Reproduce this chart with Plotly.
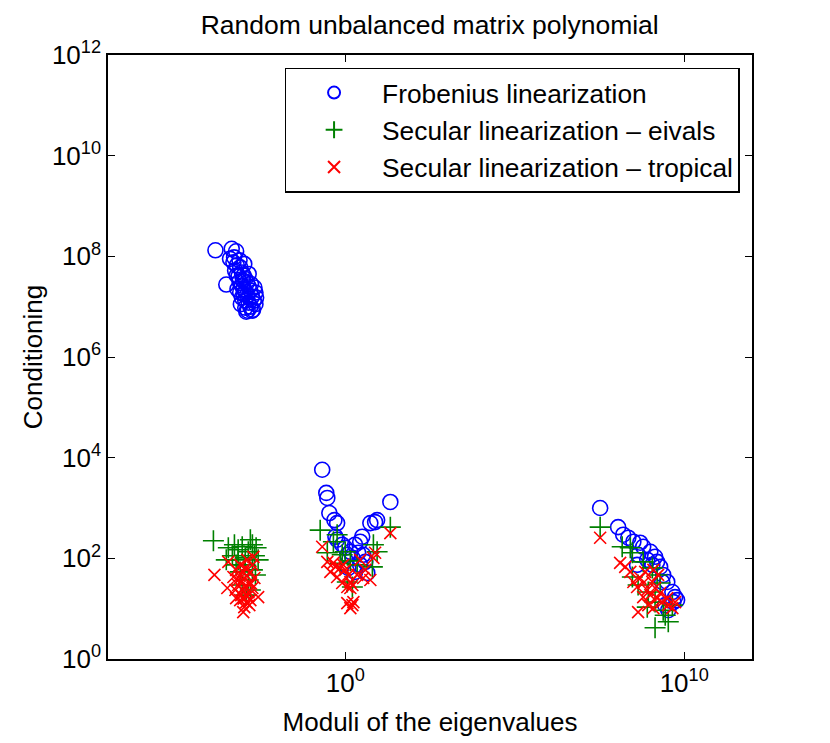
import plotly.graph_objects as go

# log10 of modulus / log10 of conditioning
frob_logx = [-3.83, -3.35, -3.22, -3.51, -3.40, -3.30, -3.20, -3.25, -3.10, -3.05, -3.15, -3.00,
             -2.95, -3.12, -2.90, -3.05, -2.85, -3.00, -2.95, -3.10, -2.80, -2.90, -3.05, -2.75,
             -2.95, -2.85, -3.08, -2.70, -2.80, -2.95, -2.65, -2.72, -2.88, -3.00, -2.78, -2.65,
             -2.63, -2.68, -3.18, -2.92, -2.75, -3.02, -2.85, -3.20, -3.12, -3.28, -2.98,
             -0.68, -0.56, -0.53, -0.47, -0.32, -0.24, 1.33, 0.74, 0.88, 0.94, 0.50, 0.44,
             -0.29, -0.24, -0.09, 0.00, 0.15, 0.29, 0.38, 0.53, 0.21, 0.44, 0.29, 0.09, 0.59,
             0.65, 0.06,
             7.52, 8.05, 8.20, 8.35, 8.50, 8.70, 8.79, 9.00, 9.14, 9.20, 9.29, 9.38, 9.50,
             9.65, 9.73, 9.79, 9.68, 9.53, 9.44, 8.64, 8.91, 9.06, 9.35, 8.61]
frob_logy = [8.12, 8.15, 8.10, 7.44, 7.95, 7.88, 7.82, 7.72, 7.78, 7.68, 7.60, 7.62,
             7.55, 7.50, 7.48, 7.42, 7.40, 7.35, 7.30, 7.28, 7.32, 7.22, 7.18, 7.20,
             7.12, 7.08, 7.05, 7.12, 7.00, 6.98, 7.05, 6.94, 6.92, 7.25, 7.45, 7.28,
             7.18, 7.38, 7.35, 6.90, 6.92, 7.52, 7.65, 7.62, 7.92, 7.98, 7.85,
             3.76, 3.30, 3.20, 2.90, 2.76, 2.70, 3.12, 2.70, 2.72, 2.76, 2.43, 2.33,
             2.43, 2.37, 2.27, 2.21, 2.13, 2.27, 2.11, 2.07, 2.01, 1.87, 1.73, 1.81, 1.93,
             1.71, 2.07,
             3.00, 2.62, 2.47, 2.41, 2.33, 2.31, 2.23, 2.13, 2.03, 1.93, 1.83, 1.67, 1.53,
             1.33, 1.23, 1.17, 1.13, 0.97, 1.07, 2.07, 1.97, 1.87, 1.53, 1.87]

eig_logx = [-3.89, -3.45, -3.33, -3.27, -3.16, -3.04, -2.95, -2.86, -2.80, -2.74, -2.68, -2.63,
            -2.57, -2.98, -3.22, -3.10, -2.86, -2.74, -3.04, -2.92, -2.80, -3.16, -3.51, -2.65,
            -0.74, -0.24, -0.35, 1.33, 0.83, 0.94, 0.00, -0.53, 0.80, 0.35, 0.21, 0.06, -0.09,
            0.15, -0.15,
            7.52, 8.17, 8.41, 8.47, 8.79, 9.06, 9.20, 8.47, 8.64, 8.94, 9.14, 9.38, 9.53,
            9.14, 9.44, 9.65, 9.29, 8.91]
eig_logy = [2.35, 2.21, 2.05, 2.27, 2.17, 2.23, 2.01, 2.13, 2.37, 2.27, 2.05, 2.21,
            1.97, 1.87, 1.87, 1.73, 1.57, 1.77, 1.47, 1.27, 1.37, 1.97, 1.97, 1.67,
            2.56, 2.47, 2.33, 2.62, 2.27, 2.13, 2.13, 2.11, 1.83, 1.87, 1.43, 1.53, 2.07,
            1.95, 1.90,
            2.62, 2.23, 2.21, 2.11, 1.93, 1.81, 1.67, 1.63, 1.47, 1.33, 1.13, 0.97, 0.74,
            0.62, 0.87, 1.07, 1.51, 1.03]

trop_logx = [-3.86, -3.45, -3.48, -2.71, -2.57, -3.01, -3.22, -3.10, -2.95, -2.80, -3.16, -2.98,
             -2.83, -2.74, -3.24, -3.04, -2.86, -2.74, -3.10, -2.92, -2.98, -2.80, -3.22, -3.16,
             -2.68, -3.01, -2.89, -3.07, -2.83, -3.30, -2.95, -3.05, -2.90, -3.00, -2.88, -3.12,
             -2.78,
             1.33, -0.68, -0.53, -0.35, -0.44, -0.24, -0.15, -0.06, 0.00, 0.09, 0.15, 0.06,
             0.15, 0.21, 0.44, 0.59, 0.53, 0.74, 0.88, 0.83, 0.06, 0.21, 0.15, 0.24, -0.09,
             -0.29, 0.35,
             7.52, 8.11, 8.26, 8.41, 8.50, 8.61, 8.70, 8.79, 8.91, 9.00, 9.06, 9.14, 9.20,
             9.29, 9.35, 9.50, 9.53, 9.65, 9.73, 8.64, 8.94, 9.09, 8.79, 9.23, 8.85, 9.09]
trop_logy = [1.67, 1.93, 1.41, 2.03, 1.23, 0.93, 1.77, 1.87, 1.81, 1.73, 1.57, 1.61,
             1.51, 1.87, 1.37, 1.37, 1.33, 1.41, 1.17, 1.13, 1.03, 1.17, 1.21, 1.47,
             1.61, 1.73, 1.97, 1.27, 1.07, 1.63, 1.45, 1.55, 1.65, 1.20, 1.25, 1.65,
             1.50,
             2.50, 2.23, 1.93, 1.91, 1.73, 1.63, 1.81, 1.87, 1.77, 1.67, 1.53, 1.43,
             1.41, 1.47, 1.97, 1.77, 1.61, 1.57, 2.11, 2.01, 1.11, 1.07, 1.01, 1.13, 1.51,
             1.83, 1.67,
             2.41, 1.91, 1.83, 1.73, 1.53, 1.43, 1.61, 1.51, 1.37, 1.27, 1.53, 1.41, 1.21,
             1.31, 1.13, 1.21, 1.07, 1.01, 1.13, 0.93, 1.07, 1.01, 1.23, 1.67, 1.73, 1.77]

x_tick_exp = [0, 10]
y_tick_exp = [0, 2, 4, 6, 8, 10, 12]


def p10(v):
    return [10 ** e for e in v]


FONT = "Liberation Sans, Arial, Helvetica, sans-serif"

fig = go.Figure()
fig.add_trace(go.Scatter(x=p10(frob_logx), y=p10(frob_logy), mode="markers",
                         name="Frobenius linearization",
                         marker=dict(symbol="circle-open", size=15, color="#0000ff",
                                     line=dict(width=1.6, color="#0000ff"))))
fig.add_trace(go.Scatter(x=p10(eig_logx), y=p10(eig_logy), mode="markers",
                         name="Secular linearization \u2013 eivals",
                         marker=dict(symbol="cross-thin-open", size=15, color="#008000",
                                     line=dict(width=1.6, color="#008000"))))
fig.add_trace(go.Scatter(x=p10(trop_logx), y=p10(trop_logy), mode="markers",
                         name="Secular linearization \u2013 tropical",
                         marker=dict(symbol="x-thin-open", size=12, color="#ff0000",
                                     line=dict(width=1.6, color="#ff0000"))))

fig.update_layout(
    width=822, height=735,
    margin=dict(l=100, r=78, t=47, b=84),
    paper_bgcolor="white", plot_bgcolor="white",
    font=dict(family=FONT, size=24, color="black"),
    title=dict(text="Random unbalanced matrix polynomial", x=0.513, xanchor="center",
               y=0.977, yanchor="middle", font=dict(size=26.5)),
    showlegend=True,
    legend=dict(x=0.981, xanchor="right", y=0.979, yanchor="top",
                bordercolor="black", borderwidth=1.3, bgcolor="white",
                font=dict(size=26.3), itemsizing="constant", itemwidth=86,
                tracegroupgap=0),
)
fig.update_xaxes(type="log", range=[-7, 12], showgrid=False, zeroline=False,
                 showline=True, linecolor="black", linewidth=1.5, mirror="ticks",
                 ticks="inside", ticklen=7, tickcolor="black", tickwidth=1.3,
                 tickvals=p10(x_tick_exp),
                 ticktext=["10<sup>%d</sup>" % e for e in x_tick_exp],
                 tickfont=dict(size=26),
                 title=dict(text="Moduli of the eigenvalues", font=dict(size=26), standoff=16))
fig.update_yaxes(type="log", range=[0, 12], showgrid=False, zeroline=False,
                 showline=True, linecolor="black", linewidth=1.5, mirror="ticks",
                 ticks="inside", ticklen=7, tickcolor="black", tickwidth=1.3,
                 tickvals=p10(y_tick_exp),
                 ticktext=["10<sup>%d</sup>" % e for e in y_tick_exp],
                 tickfont=dict(size=26),
                 title=dict(text="Conditioning", font=dict(size=26), standoff=2))

fig.write_html("out.html")
